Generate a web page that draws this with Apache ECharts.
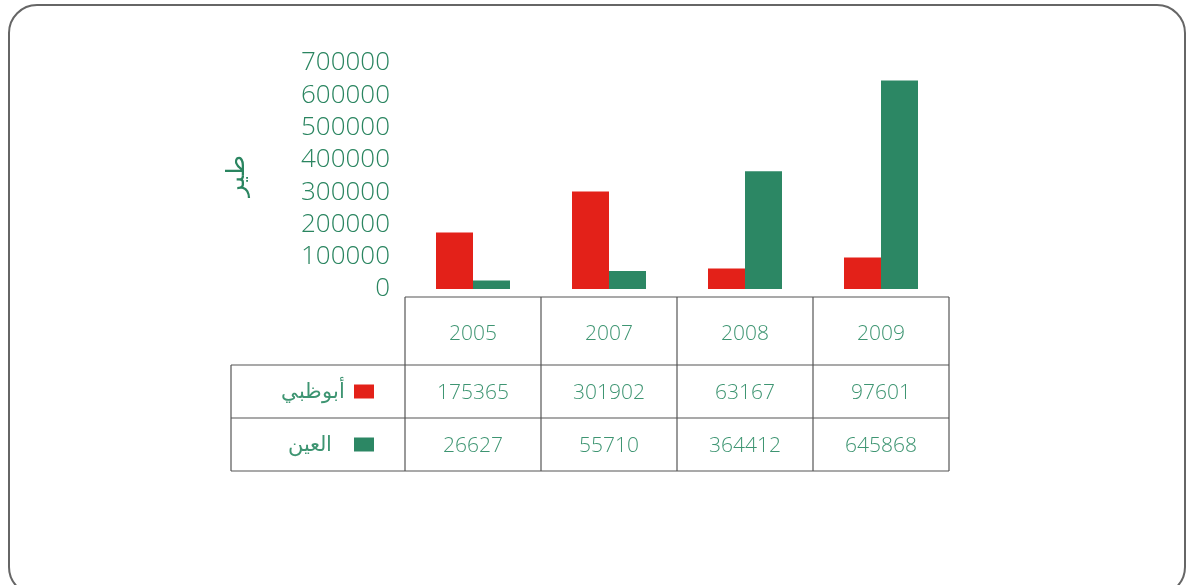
<!DOCTYPE html>
<html>
<head>
<meta charset="utf-8">
<script src="https://cdn.jsdelivr.net/npm/echarts@6/dist/echarts.min.js"></script>
<style>
  html, body { margin: 0; padding: 0; background: #fff; }
  #chart { width: 1187px; height: 585px; }
</style>
</head>
<body>
<div id="chart"></div>
<script>
var years = ['2005', '2007', '2008', '2009']
var abuDhabi = [175365, 301902, 63167, 97601]
var alAin = [26627, 55710, 364412, 645868]
var seriesNames = ['أبوظبي', 'العين']
var yTicks = [0, 700000, 100000] // min, max, step

var RED = '#e32119'
var GREEN = '#2c8764'
var TXT = '#2a8560'
var TXT_TABLE = '#3e9572'
var FONT = '"Open Sans", "DejaVu Sans", sans-serif'

var chart = echarts.init(document.getElementById('chart'))

chart.setOption({
  animation: false,
  grid: { left: 405, width: 544, top: 63, height: 226, containLabel: false },
  xAxis: {
    type: 'category',
    data: years,
    axisLine: { show: false },
    axisTick: { show: false },
    axisLabel: { show: false }
  },
  yAxis: {
    type: 'value',
    min: yTicks[0],
    max: yTicks[1],
    interval: yTicks[2],
    name: 'طير',
    nameLocation: 'middle',
    nameRotate: 90,
    nameGap: 156,
    nameTextStyle: { color: TXT, fontSize: 25, fontFamily: FONT, fontWeight: 300 },
    axisLine: { show: false },
    axisTick: { show: false },
    splitLine: { show: false },
    axisLabel: {
      color: TXT,
      fontSize: 26,
      fontFamily: FONT,
      fontWeight: 300,
      margin: 15,
      padding: [0, 0, 8, 0],
      formatter: function (v) { return String(v) }
    }
  },
  series: [
    { name: seriesNames[0], type: 'bar', data: abuDhabi, barWidth: 37, barGap: '0%', itemStyle: { color: RED } },
    { name: seriesNames[1], type: 'bar', data: alAin, barWidth: 37, barGap: '0%', itemStyle: { color: GREEN } }
  ]
})

// data table under the plot, columns taken from the category axis
function drawTable () {
  var centers = years.map(function (y) { return chart.convertToPixel({ xAxisIndex: 0 }, y) })
  var band = centers[1] - centers[0]
  var edges = centers.map(function (c) { return c - band / 2 })
  edges.push(centers[centers.length - 1] + band / 2)
  var left = 231
  var rowY = [297, 365, 418, 471]
  var lineStyle = { stroke: '#555', lineWidth: 1.2 }
  var els = []

  function line (x1, y1, x2, y2) {
    els.push({ type: 'line', shape: { x1: x1, y1: y1, x2: x2, y2: y2 }, style: lineStyle, silent: true })
  }
  function text (x, y, str, align, color) {
    els.push({
      type: 'text', x: x, y: y, silent: true,
      style: { text: str, align: align, verticalAlign: 'middle', fill: color, fontSize: 21, fontFamily: FONT, fontWeight: 300 }
    })
  }

  var last = edges[edges.length - 1]
  line(edges[0], rowY[0], last, rowY[0])
  for (var r = 1; r < rowY.length; r++) line(left, rowY[r], last, rowY[r])
  line(left, rowY[1], left, rowY[3])
  edges.forEach(function (x) { line(x, rowY[0], x, rowY[3]) })

  var rows = [abuDhabi, alAin]
  var colors = [RED, GREEN]
  years.forEach(function (y, i) {
    text(centers[i], (rowY[0] + rowY[1]) / 2 + 3, y, 'center', TXT_TABLE)
    rows.forEach(function (vals, k) {
      text(centers[i], (rowY[k + 1] + rowY[k + 2]) / 2 + 2, String(vals[i]), 'center', TXT_TABLE)
    })
  })
  rows.forEach(function (vals, k) {
    var cy = (rowY[k + 1] + rowY[k + 2]) / 2
    els.push({ type: 'rect', shape: { x: 354, y: cy - 7, width: 20, height: 14 }, style: { fill: colors[k] }, silent: true })
    text(k === 0 ? 345 : 332, cy + 1, seriesNames[k], 'right', TXT_TABLE)
  })

  // rounded frame around the whole figure
  els.push({
    type: 'rect', silent: true,
    shape: { x: 9, y: 5, width: 1176, height: 590, r: 28 },
    style: { fill: 'none', stroke: '#666', lineWidth: 2 }
  })

  chart.setOption({ graphic: els })
}
drawTable()
</script>
</body>
</html>
